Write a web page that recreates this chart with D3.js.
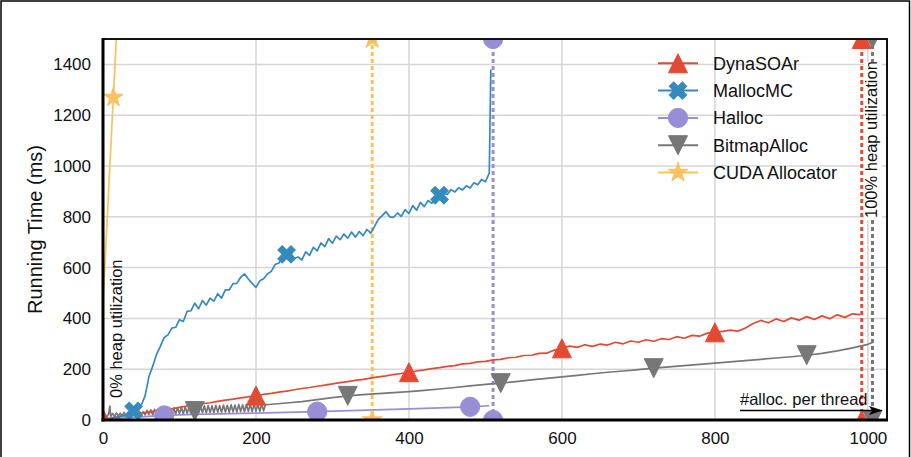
<!DOCTYPE html>
<html><head><meta charset="utf-8">
<script src="https://cdn.jsdelivr.net/npm/d3@7"></script>
<style>body{margin:0;background:#fff} svg{display:block} text{font-family:"Liberation Sans",Arial,Helvetica,sans-serif;fill:#111}</style>
</head><body><svg id="c" width="911" height="457"></svg>
<script>
// ---------------- data ----------------
const xTicks = [0, 200, 400, 600, 800, 1000];
const yTicks = [0, 200, 400, 600, 800, 1000, 1200, 1400];
const seriesNames = ["DynaSOAr", "MallocMC", "Halloc", "BitmapAlloc", "CUDA Allocator"];
const seriesColors = ["#E24A33", "#348ABD", "#988ED5", "#777777", "#FBC15E"];

// DynaSOAr, one value every 10 allocations (0..990)
const dynaX = d3.range(0, 1000, 10);
const dynaY = [4,8,13,18,22,27,32,36,41,45, 50,55,59,64,68,73,78,82,87,91,
  96,101,105,110,114,119,124,128,133,137, 142,147,151,156,160,165,170,174,179,183,
  188,193,197,202,206,211,214,221,223,229, 231,237,239,245,247,254,255,262,263,275,
  282,291,286,296,290,299,295,306,300,311, 306,316,310,320,317,328,322,333,330,342,
  345,349,354,350,362,380,392,383,398,388, 402,393,407,396,410,399,414,404,418,415];
const dynaMarkX = [0, 200, 400, 600, 800];
const dynaMarkY = [4, 96, 188, 282, 345];
const dynaFail = 992;

// MallocMC, one value every 5 allocations (0..505), then spike
const mallocX = d3.range(0, 510, 5).concat([507]);
const mallocY = [2,6,4,12,9,18,16,26,32,40, 58,95,170,212,258,290,325,335,362,365,
  395,388,428,430,460,438,470,452,480,468, 497,480,512,512,537,538,562,575,555,538,
  522,548,556,575,585,612,618,645,650,660, 636,642,630,662,648,680,666,697,683,714,
  696,724,710,732,716,740,720,742,726,750, 736,762,790,805,820,800,798,815,802,828,
  813,844,826,857,840,864,853,880,882,895, 888,907,898,914,906,922,913,934,926,947,
  938,972, 1380];
const mallocMarkX = [40, 240, 440];
const mallocMarkY = [36, 652, 885];

// Halloc
const hallocX = [0, 40, 80, 120, 200, 280, 400, 480, 505];
const hallocY = [3, 10, 18, 22, 27, 33, 44, 52, 56];
const hallocMarkX = [80, 280, 480];
const hallocMarkY = [18, 33, 52];
const hallocFail = 510;

// BitmapAlloc: start (0..10), noisy band (every 2.5 up to 212.5), smooth afterwards
const bitmapStartX = [0, 2.5, 5, 7.5, 9, 10];
const bitmapStartY = [8, 20, 12, 25, 55, 14];
const bitmapNoiseX = d3.range(12.5, 213, 2.5);
const bitmapNoiseY = [26,14,28,16,27,15,30,17,29,16,
  32,18,31,17,34,19,33,20,38,21,
  40,20,42,22,41,21,44,23,45,22,
  47,24,46,23,49,25,50,24,52,26,
  51,25,54,27,53,26,55,28,56,27,
  57,29,56,28,58,30,57,29,59,31,
  58,30,60,32,59,31,61,33,60,32,
  62,34,61,33,63,35,62,34,63,36,
  62];
const bitmapSmoothX = [215,220,240,260,280,300,320,340,360,380,400,420,440,460,480,500,520,540,560,580,600,
  620,640,660,680,700,720,740,760,780,800,820,840,860,880,900,920,940,960,980,1000,1006];
const bitmapSmoothY = [60,62,67,72,80,88,95,100,104,108,112,117,122,128,134,140,145,151,158,164,170,
  176,182,188,193,198,204,209,214,219,224,229,234,239,244,249,255,262,272,284,298,305];
const bitmapMarkX = [120, 320, 520, 720, 920];
const bitmapMarkY = [35, 95, 145, 204, 255];
const bitmapFail = 1006;

// CUDA Allocator
const cudaX = [0, 13.5, 20];
const cudaY = [460, 1270, 1660];
const cudaMarkX = [13.5];
const cudaMarkY = [1270];
const cudaFail = 352;

// ---------------- drawing ----------------
const svg = d3.select("#c");
const L = 103, R = 887, T = 39, B = 420;
const x = d3.scaleLinear().domain([0, 1025]).range([L, R]);
const y = d3.scaleLinear().domain([0, 1500]).range([B, T]);

// outer frame
svg.append("path").attr("d", `M1,460 V1 H909.5 V460`).attr("fill", "none").attr("stroke", "#000").attr("stroke-width", 1.5);

// grid
const grid = svg.append("g");
grid.selectAll(".gx").data(xTicks.filter(d => d > 0)).join("line")
  .attr("x1", d => x(d)).attr("x2", d => x(d)).attr("y1", T).attr("y2", B)
  .attr("stroke", "#d6d6d6").attr("stroke-width", 1.5);
grid.selectAll(".gy").data(yTicks.filter(d => d > 0)).join("line")
  .attr("y1", d => y(d)).attr("y2", d => y(d)).attr("x1", L).attr("x2", R)
  .attr("stroke", "#d6d6d6").attr("stroke-width", 1.5);

// axes
const fmt = d3.format("d");
const ax = svg.append("g").attr("transform", `translate(0,${B})`)
  .call(d3.axisBottom(x).tickValues(xTicks).tickFormat(fmt).tickSize(0).tickPadding(12));
const ay = svg.append("g").attr("transform", `translate(${L},0)`)
  .call(d3.axisLeft(y).tickValues(yTicks).tickFormat(fmt).tickSize(0).tickPadding(12));
[ax, ay].forEach(g => {
  g.select(".domain").remove();
  g.selectAll("text").style("font-size", "17px").style("font-family", '"Liberation Sans",Arial,sans-serif').attr("fill", "#111");
});

svg.append("text").attr("transform", `translate(42,${(T + B) / 2}) rotate(-90)`)
  .attr("text-anchor", "middle").style("font-size", "20px").text("Running Time (ms)");

// clip
svg.append("clipPath").attr("id", "clip").append("rect")
  .attr("x", L).attr("y", T).attr("width", R - L).attr("height", B - T);
const plot = svg.append("g").attr("clip-path", "url(#clip)");

const line = d3.line().x(d => x(d[0])).y(d => y(d[1]));
const zip = (a, b) => a.map((v, i) => [v, b[i]]);

// marker shapes
const h = 9.5;
const triUp = `M0,${-h}L${-h},${h}L${h},${h}Z`;
const triDown = `M0,${h}L${-h},${-h}L${h},${-h}Z`;
const xShape = d3.symbol(d3.symbolCross, 190)();
const circ = d3.symbol(d3.symbolCircle, 290)();
const star = d3.symbol(d3.symbolStar, 120)();
const shapes = [triUp, xShape, circ, triDown, star];
const rot = [0, 45, 0, 0, 0];

function marker(g, i, px, py) {
  g.append("path").attr("d", shapes[i])
    .attr("transform", `translate(${px},${py}) rotate(${rot[i]})`)
    .attr("fill", seriesColors[i]).attr("stroke", seriesColors[i]).attr("stroke-width", 1);
}
function failLine(i, xv) {
  plot.append("line").attr("x1", x(xv)).attr("x2", x(xv)).attr("y1", B).attr("y2", T)
    .attr("stroke", seriesColors[i]).attr("stroke-width", 3).attr("stroke-dasharray", "4,3");
}

// failure lines
failLine(4, cudaFail);
failLine(2, hallocFail);
failLine(0, dynaFail);
failLine(3, bitmapFail);

const bitmapX = bitmapStartX.concat(bitmapNoiseX, bitmapSmoothX);
const bitmapY = bitmapStartY.concat(bitmapNoiseY, bitmapSmoothY);

const allX = [dynaX, mallocX, hallocX, bitmapX, cudaX];
const allY = [dynaY, mallocY, hallocY, bitmapY, cudaY];
const markX = [dynaMarkX, mallocMarkX, hallocMarkX, bitmapMarkX, cudaMarkX];
const markY = [dynaMarkY, mallocMarkY, hallocMarkY, bitmapMarkY, cudaMarkY];
const fails = [dynaFail, null, hallocFail, bitmapFail, cudaFail];

[3, 2, 0, 1, 4].forEach(i => {
  plot.append("path").attr("d", line(zip(allX[i], allY[i])))
    .attr("fill", "none").attr("stroke", seriesColors[i]).attr("stroke-width", 1.7)
    .attr("stroke-linejoin", "round");
});
[3, 2, 0, 1, 4].forEach(i => {
  markX[i].forEach((mx, k) => marker(plot, i, x(mx), y(markY[i][k])));
  if (fails[i] !== null) {
    marker(plot, i, x(fails[i]), y(0));
    marker(plot, i, x(fails[i]), y(1500));
  }
});

// frame
svg.append("rect").attr("x", L).attr("y", T).attr("width", R - L).attr("height", B - T)
  .attr("fill", "none").attr("stroke", "#111").attr("stroke-width", 2);
svg.append("line").attr("x1", L).attr("x2", L).attr("y1", T - 1).attr("y2", B + 1.5).attr("stroke", "#000").attr("stroke-width", 3);
svg.append("line").attr("x1", L - 1.5).attr("x2", R + 1).attr("y1", B).attr("y2", B).attr("stroke", "#000").attr("stroke-width", 3);

// legend
const lg = svg.append("g");
seriesNames.forEach((n, i) => {
  const ly = 63.3 + i * 27.3;
  lg.append("line").attr("x1", 658).attr("x2", 698).attr("y1", ly).attr("y2", ly)
    .attr("stroke", seriesColors[i]).attr("stroke-width", 2);
  marker(lg, i, 678, ly);
  lg.append("text").attr("x", 713).attr("y", ly).attr("dy", "0.36em")
    .style("font-size", "18px").text(n);
});

// annotations
svg.append("text").attr("transform", `translate(122,398) rotate(-90)`)
  .style("font-size", "16.5px").text("0% heap utilization");
svg.append("rect").attr("x", 864).attr("y", 62).attr("width", 18).attr("height", 158).attr("fill", "#fff");
svg.append("text").attr("transform", `translate(877,218) rotate(-90)`)
  .style("font-size", "16.5px").text("100% heap utilization");

svg.append("text").attr("x", 740).attr("y", 405).style("font-size", "16.5px").text("#alloc. per thread");
svg.append("line").attr("x1", 740).attr("x2", 876).attr("y1", 410.5).attr("y2", 410.5).attr("stroke", "#000").attr("stroke-width", 1.5);
svg.append("path").attr("d", "M883,410.5 L869,406 L872,410.5 L869,415 Z").attr("fill", "#000");
</script></body></html>
